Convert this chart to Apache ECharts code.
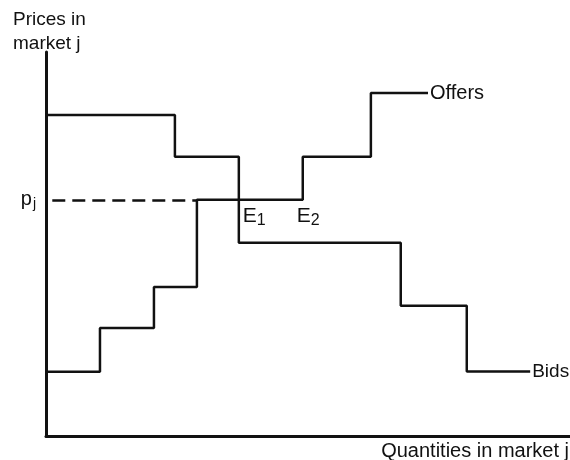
<!DOCTYPE html>
<html>
<head>
<meta charset="utf-8">
<script src="https://cdn.jsdelivr.net/npm/echarts@6/dist/echarts.min.js"></script>
<style>html,body{margin:0;padding:0;background:#fff}#c{width:570px;height:460px}</style>
</head>
<body>
<div id="c"></div>
<script>
// Bids step curve (quantity where each level starts, price level)
var bidQty    = [0, 2.46, 3.68, 6.77, 8.03, 9.24];
var bidPrice  = [8.36, 7.27, 5.03, 3.39, 1.68, 1.68];
// Offers step curve
var offerQty   = [0, 1.03, 2.06, 2.88, 4.90, 6.20, 7.29];
var offerPrice = [1.67, 2.81, 3.88, 6.15, 7.27, 8.93, 8.93];
// Equilibrium price and points
var pj = 6.15;
var dashStart = 0.12, dashEnd = 2.88;
var eqQty = [3.68, 4.90];
var eqNames = ['1', '2'];

var FONT = 'Liberation Sans';
function pairs(xs, ys){ return xs.map(function(x,i){ return [x, ys[i]]; }); }
var eqOffsets = [[4, 3], [-6, 3]];

var chart = echarts.init(document.getElementById('c'));
chart.setOption({
  animation: false,
  backgroundColor: '#fff',
  title: [
    { text: 'Prices in\nmarket j', left: 13, top: 8, padding: 0,
      textStyle: { fontFamily: FONT, fontSize: 19, fontWeight: 'normal', color: '#111', lineHeight: 24 } },
    { text: 'Quantities in market j', right: 1, top: 441, padding: 0,
      textStyle: { fontFamily: FONT, fontSize: 20, fontWeight: 'normal', color: '#111' } }
  ],
  grid: { left: 46, right: 0, top: 52, bottom: 24 },
  xAxis: {
    type: 'value', min: 0, max: 10,
    axisLine: { show: true, lineStyle: { color: '#111', width: 3 } },
    axisTick: { show: false }, axisLabel: { show: false }, splitLine: { show: false }
  },
  yAxis: {
    type: 'value', min: 0, max: 10,
    axisLine: { show: true, lineStyle: { color: '#111', width: 3 } },
    axisTick: { show: false }, splitLine: { show: false },
    axisLabel: {
      show: true, customValues: [pj], margin: 10,
      formatter: function(){ return '{p|p}{s|j}'; },
      rich: {
        p: { fontFamily: FONT, fontSize: 20, color: '#111' },
        s: { fontFamily: FONT, fontSize: 14, color: '#111', padding: [8, 0, 0, 1] }
      }
    }
  },
  series: [
    {
      name: 'Bids', type: 'line', step: 'end', data: pairs(bidQty, bidPrice),
      symbol: 'none', lineStyle: { color: '#111', width: 2.5 },
      endLabel: { show: true, formatter: 'Bids', distance: 2,
        fontFamily: FONT, fontSize: 19, color: '#111' }
    },
    {
      name: 'Offers', type: 'line', step: 'end', data: pairs(offerQty, offerPrice),
      symbol: 'none', lineStyle: { color: '#111', width: 2.5 },
      endLabel: { show: true, formatter: 'Offers', distance: 2,
        fontFamily: FONT, fontSize: 20, color: '#111' },
      markLine: {
        silent: true, symbol: ['none', 'none'],
        lineStyle: { color: '#111', width: 2.5, type: [13, 7] },
        label: { show: false },
        data: [[{ coord: [dashStart, pj] }, { coord: [dashEnd, pj] }]]
      },
      markPoint: {
        silent: true, symbol: 'rect', symbolSize: 1,
        itemStyle: { color: 'rgba(0,0,0,0)' },
        label: {
          show: true, position: 'inside', align: 'left', verticalAlign: 'top', offset: [3, 3],
          formatter: function(p){ return '{e|E}{s|' + p.name + '}'; },
          rich: {
            e: { fontFamily: FONT, fontSize: 21, color: '#111' },
            s: { fontFamily: FONT, fontSize: 16, color: '#111', padding: [10, 0, 0, 0] }
          }
        },
        data: eqQty.map(function(q, i){
          return { name: eqNames[i], coord: [q, pj], label: { offset: eqOffsets[i] } };
        })
      }
    }
  ]
});
</script>
</body>
</html>
